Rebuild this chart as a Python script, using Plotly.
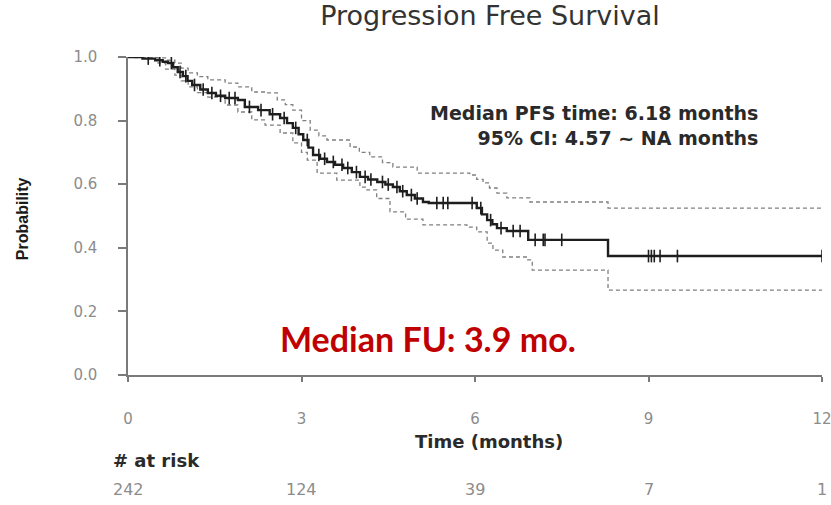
import numpy as np
import plotly.graph_objects as go

# Kaplan-Meier estimate (months, survival probability)
km_time = [0, 0.25, 0.47, 0.60, 0.69, 0.78, 0.86, 0.95, 1.03, 1.11, 1.25, 1.38, 1.52,
           1.68, 1.90, 2.02, 2.25, 2.45, 2.63, 2.75, 2.85, 2.95, 3.03, 3.12, 3.20,
           3.32, 3.44, 3.58, 3.72, 3.87, 4.01, 4.15, 4.31, 4.45, 4.58, 4.70, 4.82,
           4.96, 5.10, 5.20, 6.03, 6.12, 6.21, 6.30, 6.38, 6.55, 6.92, 8.30, 12.0]
km_surv = [1.0, 0.995, 0.99, 0.985, 0.981, 0.968, 0.953, 0.94, 0.925, 0.912, 0.898,
           0.887, 0.878, 0.871, 0.865, 0.843, 0.833, 0.82, 0.808, 0.792, 0.777, 0.757,
           0.739, 0.715, 0.692, 0.68, 0.670, 0.661, 0.651, 0.638, 0.623, 0.615, 0.607,
           0.599, 0.591, 0.578, 0.566, 0.555, 0.544, 0.541, 0.525, 0.505, 0.487, 0.474,
           0.462, 0.453, 0.425, 0.374, 0.374]

# 95% confidence bounds
upper_time = [0, 0.52, 0.65, 0.81, 0.92, 1.04, 1.20, 1.38, 1.68, 1.90, 2.14, 2.37, 2.58,
              2.72, 2.85, 3.00, 3.15, 3.30, 3.44, 3.84, 4.00, 4.18, 4.40, 4.58, 5.00,
              5.91, 6.03, 6.14, 6.25, 6.38, 6.55, 6.95, 8.30, 12.0]
upper_surv = [1.0, 0.997, 0.99, 0.981, 0.965, 0.950, 0.938, 0.928, 0.918, 0.906, 0.890,
              0.887, 0.865, 0.85, 0.833, 0.80, 0.770, 0.752, 0.739, 0.717, 0.70, 0.686,
              0.668, 0.654, 0.635, 0.629, 0.615, 0.604, 0.588, 0.572, 0.557, 0.544,
              0.525, 0.525]
lower_time = [0, 0.12, 0.52, 0.65, 0.81, 0.92, 1.04, 1.20, 1.38, 1.68, 1.90, 2.14, 2.37,
              2.63, 2.85, 3.00, 3.10, 3.27, 3.61, 4.01, 4.13, 4.30, 4.53, 4.80, 5.10,
              5.86, 6.03, 6.21, 6.31, 6.48, 6.90, 6.99, 8.30, 12.0]
lower_surv = [1.0, 0.998, 0.981, 0.962, 0.943, 0.925, 0.906, 0.888, 0.874, 0.849, 0.827,
              0.802, 0.786, 0.761, 0.730, 0.70, 0.676, 0.635, 0.613, 0.591, 0.582, 0.555,
              0.513, 0.49, 0.472, 0.465, 0.450, 0.415, 0.393, 0.371, 0.362, 0.330,
              0.267, 0.267]

# Censoring times (months)
censor_time = [0.35, 0.55, 0.75, 0.90, 1.00, 1.15, 1.30, 1.45, 1.60, 1.75, 1.85, 2.10,
               2.30, 2.50, 2.70, 2.90, 3.10, 3.30, 3.40, 3.55, 3.70, 3.80, 3.95, 4.10,
               4.20, 4.40, 4.50, 4.65, 4.75, 4.90, 5.00, 5.34, 5.45, 5.53, 5.95, 6.10,
               6.27, 6.45, 6.66, 6.78, 7.04, 7.18, 7.21, 7.50, 9.00, 9.05, 9.10, 9.20,
               9.50, 12.0]

# Number at risk table
risk_time = [0, 3, 6, 9, 12]
risk_n = [242, 124, 39, 7, 1]

x_ticks = [0, 3, 6, 9, 12]
y_ticks = [0.0, 0.2, 0.4, 0.6, 0.8, 1.0]

# survival value of the step function at each censoring time
idx = np.searchsorted(np.array(km_time), np.array(censor_time), side="right") - 1
censor_surv = [km_surv[i] for i in idx]

curve_col = "#1e1e1e"
fig = go.Figure()
ci_line = dict(color="#808080", width=1.3, dash="4px,3px", shape="hv")
fig.add_trace(go.Scatter(x=upper_time, y=upper_surv, mode="lines", line=ci_line,
                         hoverinfo="skip", showlegend=False))
fig.add_trace(go.Scatter(x=lower_time, y=lower_surv, mode="lines", line=ci_line,
                         hoverinfo="skip", showlegend=False))
fig.add_trace(go.Scatter(x=km_time, y=km_surv, mode="lines",
                         line=dict(color=curve_col, width=2.4, shape="hv"),
                         showlegend=False))
fig.add_trace(go.Scatter(x=censor_time, y=censor_surv, mode="markers",
                         marker=dict(symbol="line-ns-open", size=9, color=curve_col,
                                     line=dict(color=curve_col, width=1.6)),
                         showlegend=False))

axis_grey = "#7a7a7a"
tick_font = dict(family="DejaVu Sans", size=15, color="#8c8c8c")

fig.update_layout(
    width=831, height=505,
    margin=dict(l=128, r=9, t=57, b=130),
    paper_bgcolor="white", plot_bgcolor="white",
    title=dict(text="Progression Free Survival", x=490 / 831, xanchor="center",
               y=1 - 16 / 505, yanchor="middle",
               font=dict(family="DejaVu Sans", size=27, color="#333333")),
    xaxis=dict(range=[0, 12], tickvals=x_ticks, ticktext=[str(v) for v in x_ticks],
               showgrid=False, zeroline=False, showline=True, linecolor=axis_grey,
               linewidth=1.5, ticks="outside", ticklen=5, tickcolor=axis_grey,
               tickwidth=1.5, tickfont=tick_font, ticklabelstandoff=24,
               ticklabeloverflow="allow", automargin=False),
    yaxis=dict(range=[0, 1.0], tickvals=y_ticks, ticktext=[f"{v:.1f}" for v in y_ticks],
               showgrid=False, zeroline=False, showline=True, linecolor=axis_grey,
               linewidth=1.5, ticks="outside", ticklen=8, tickcolor=axis_grey,
               tickwidth=1.5, tickfont=tick_font, ticklabelstandoff=18,
               automargin=False),
)

# axis titles
fig.add_annotation(text="<b>Time (months)</b>", xref="x", yref="paper", x=6.25, y=-66 / 318,
                   yanchor="middle", xanchor="center", showarrow=False,
                   font=dict(family="DejaVu Sans", size=18, color="#2a2a2a"))
fig.add_annotation(text="<b>Probability</b>", xref="paper", yref="paper", x=-106 / 694,
                   y=0.49, textangle=-90, xanchor="center", yanchor="middle",
                   showarrow=False,
                   font=dict(family="Liberation Sans", size=16, color="#1a1a1a"))

# median summary
fig.add_annotation(text="<b>Median PFS time: 6.18 months</b><br><b>95% CI: 4.57 ~ NA months</b>",
                   xref="paper", yref="paper", x=(760 - 128) / 694, y=(375 - 126) / 318,
                   xanchor="right", yanchor="middle", align="right", showarrow=False,
                   font=dict(family="DejaVu Sans", size=19, color="#2a2a2a"))
fig.add_annotation(text="<b>Median FU: 3.9 mo.</b>", xref="paper", yref="paper",
                   x=(428 - 128) / 694, y=(375 - 338) / 318, xanchor="center",
                   yanchor="middle", showarrow=False,
                   font=dict(family="Lato", size=34, color="#c00000"))

# number-at-risk table
fig.add_annotation(text="<b># at risk</b>", xref="paper", yref="paper",
                   x=(111 - 128) / 694, y=(375 - 460) / 318, xanchor="left",
                   yanchor="middle", showarrow=False,
                   font=dict(family="DejaVu Sans", size=18, color="#2a2a2a"))
for t, n in zip(risk_time, risk_n):
    fig.add_annotation(text=str(n), xref="x", yref="paper", x=t, y=(375 - 489) / 318,
                       xanchor="center", yanchor="middle", showarrow=False,
                       font=dict(family="DejaVu Sans", size=16, color="#8c8c8c"))

fig.write_html("out.html")
